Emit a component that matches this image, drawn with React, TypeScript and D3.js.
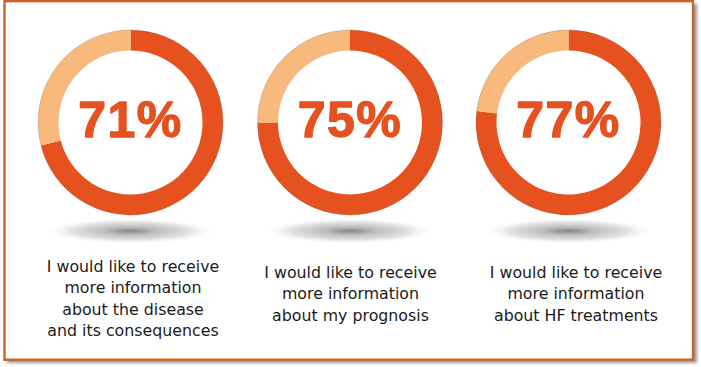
import React, { useEffect, useRef } from 'react';
import * as d3 from 'd3';

// share of patients agreeing with each statement
const percents = [71, 75, 77];
const centersX = [130.5, 350, 568.5];
const labelCentersX = [133, 350.5, 576];
const labels = [
  ['I would like to receive', 'more information', 'about the disease', 'and its consequences'],
  ['I would like to receive', 'more information', 'about my prognosis'],
  ['I would like to receive', 'more information', 'about HF treatments'],
];
const labelTop = [272, 278, 278];

const DARK = '#E5521F';
const LIGHT = '#F7B97C';

const App = () => {
  const ref = useRef(null);

  useEffect(() => {
    const width = 701;
    const height = 367;
    const root = d3.select(ref.current);
    root.selectAll('*').remove();

    const svg = root
      .append('svg')
      .attr('width', width)
      .attr('height', height)
      .style('position', 'absolute')
      .style('left', 0)
      .style('top', 0);

    const defs = svg.append('defs');
    const blur = defs.append('filter').attr('id', 'frameShadow').attr('x', '-5%').attr('y', '-5%').attr('width', '110%').attr('height', '110%');
    blur.append('feGaussianBlur').attr('stdDeviation', 1.5);

    const grad = defs.append('radialGradient').attr('id', 'floorShadow');
    grad.append('stop').attr('offset', '0%').attr('stop-color', '#858585');
    grad.append('stop').attr('offset', '30%').attr('stop-color', '#bdbdbd');
    grad.append('stop').attr('offset', '70%').attr('stop-color', '#e4e4e4');
    grad.append('stop').attr('offset', '100%').attr('stop-color', '#ffffff').attr('stop-opacity', 0);

    // frame with soft shadow
    svg.append('rect').attr('x', 7).attr('y', 4).attr('width', 690).attr('height', 359)
      .attr('fill', '#9a9a9a').attr('filter', 'url(#frameShadow)');
    svg.append('rect').attr('x', 4.5).attr('y', 1.2).attr('width', 688.5).attr('height', 358.5)
      .attr('fill', '#ffffff').attr('stroke', '#C7652D').attr('stroke-width', 2.4);

    const pie = d3.pie<number>().sort(null).value(d => d);
    const arc = d3.arc<d3.PieArcDatum<number>>().innerRadius(72).outerRadius(92.5);
    const cy = 122.5;

    percents.forEach((p, i) => {
      const cx = centersX[i];

      svg.append('ellipse')
        .attr('cx', cx).attr('cy', 231).attr('rx', 86).attr('ry', 13)
        .attr('fill', 'url(#floorShadow)');

      const g = svg.append('g').attr('transform', `translate(${cx},${cy})`);
      g.selectAll('path')
        .data(pie([p, 100 - p]))
        .enter()
        .append('path')
        .attr('d', arc)
        .attr('fill', (d, j) => (j === 0 ? DARK : LIGHT));
      g.append('circle').attr('r', 92.5).attr('fill', 'none')
        .attr('stroke', 'rgba(0,0,0,0.18)').attr('stroke-width', 0.8);

      g.append('text')
        .attr('text-anchor', 'middle')
        .attr('y', 14.5)
        .attr('font-family', '"Liberation Sans", Arial, sans-serif')
        .attr('font-weight', 'bold')
        .attr('font-size', 50)
        .attr('letter-spacing', 1.5)
        .attr('fill', DARK)
        .attr('stroke', DARK)
        .attr('stroke-width', 1.3)
        .attr('stroke-linejoin', 'round')
        .text(`${p}%`);

      const t = svg.append('text')
        .attr('text-anchor', 'middle')
        .attr('font-family', '"DejaVu Sans", sans-serif')
        .attr('font-size', 15.8)
        .attr('fill', '#1a1a1a');
      labels[i].forEach((line, k) => {
        t.append('tspan')
          .attr('x', labelCentersX[i])
          .attr('y', labelTop[i] + k * 21.3)
          .text(line);
      });
    });
  }, []);

  return <div ref={ref}></div>;
};

export default App;
